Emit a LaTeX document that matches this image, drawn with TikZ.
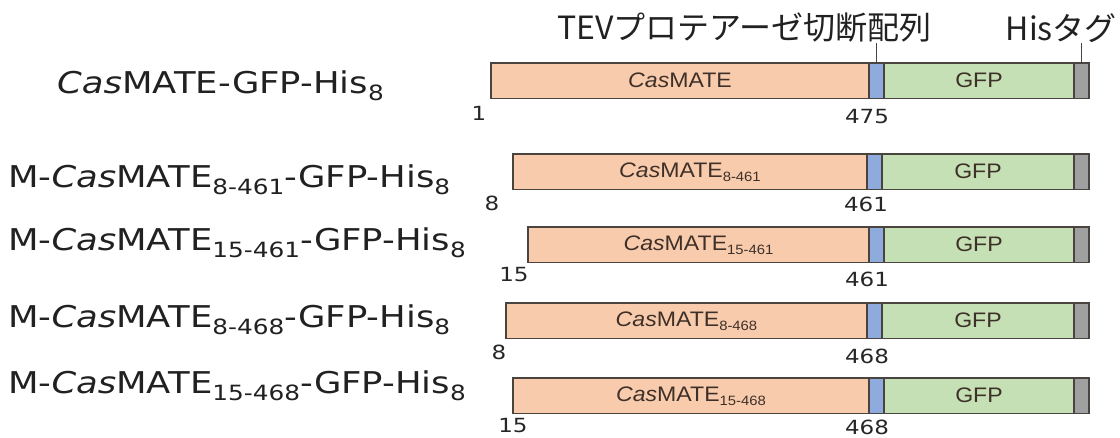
\documentclass[tikz,border=0pt]{standalone}
\usepackage{fontspec}
\setmainfont{DejaVu Sans}
\newfontfamily\lab[FakeStretch=1.18]{DejaVu Sans}
\newfontfamily\cjk{Noto Sans CJK JP}
\newfontfamily\arl[FakeStretch=1.1]{Liberation Sans}
\definecolor{orgfill}{HTML}{F8CBAD}
\definecolor{bluefill}{HTML}{8FAADC}
\definecolor{grnfill}{HTML}{C5E0B4}
\definecolor{gryfill}{HTML}{A0A0A0}
\definecolor{edge}{HTML}{4A4440}
\definecolor{txtbrown}{HTML}{3E3028}
\newcommand\lsub[1]{\raisebox{-7pt}{\fontsize{21}{21}\selectfont #1}}
\newcommand\bsub[1]{\raisebox{-4pt}{\fontsize{13.5}{13.5}\selectfont #1}}
\tikzset{
  seg/.style={draw=edge, line width=1.3pt, inner sep=0pt, outer sep=0pt, minimum height=35.5},
  bartxt/.style={inner sep=0pt, font=\arl\fontsize{21}{24}\selectfont, text=txtbrown},
  num/.style={inner sep=0pt, font=\lab\fontsize{19.5}{22}\selectfont, text=black!85},
  lbl/.style={anchor=base west, inner sep=0pt, font=\lab\fontsize{30}{36}\selectfont, text=black!87},
  cjkt/.style={anchor=east, inner sep=0pt, font=\cjk\fontsize{32}{38}\selectfont, text=black!87},
  tick/.style={draw=edge, line width=1.5pt}
}
\newcommand\mybar[5]{%
  \node[seg, fill=orgfill, minimum width={#4-#2}, anchor=north west] (#1o) at (#2,#3) {};
  \node[seg, fill=bluefill, minimum width=15, anchor=north west] (#1b) at (#4,#3) {};
  \node[seg, fill=grnfill, minimum width={1074-#4-15}, anchor=north west] (#1g) at (#1b.north east) {};
  \node[seg, fill=gryfill, minimum width=15, anchor=north west] (#1h) at (#1g.north east) {};
  \node[bartxt] (#1t) at (#1o.center) {#5};
  \node[bartxt] (#1u) at (#1g.center) {GFP};
}
\begin{document}
\begin{tikzpicture}[x=1pt, y=-1pt]
\useasboundingbox (0,0) rectangle (1120,437);
% titles
\node[cjkt] (tev) at (932,28) {TEVプロテアーゼ切断配列};
\node[cjkt] (his) at (1117,28) {Hisタグ};
% bars
\mybar{r1}{491}{63}{869}{\textit{Cas}MATE}
\mybar{r2}{513}{154}{867}{\textit{Cas}MATE\bsub{8-461}}
\mybar{r3}{528}{227}{869}{\textit{Cas}MATE\bsub{15-461}}
\mybar{r4}{506}{303}{867}{\textit{Cas}MATE\bsub{8-468}}
\mybar{r5}{513}{378}{869}{\textit{Cas}MATE\bsub{15-468}}
% ticks
\coordinate (tevend) at (r1b.north |- tev.south);
\coordinate (hisend) at (r1h.north |- his.south);
\draw[tick] (r1b.north) -- (tevend);
\draw[tick] (r1h.north) -- (hisend);
% left labels
\node[lbl] (L1) at (57,93) {\textit{Cas}MATE-GFP-His\lsub{8}};
\node[lbl] (L2) at (8,187) {M-\textit{Cas}MATE\lsub{8-461}-GFP-His\lsub{8}};
\node[lbl] (L3) at (8,250) {M-\textit{Cas}MATE\lsub{15-461}-GFP-His\lsub{8}};
\node[lbl] (L4) at (8,327) {M-\textit{Cas}MATE\lsub{8-468}-GFP-His\lsub{8}};
\node[lbl] (L5) at (8,393) {M-\textit{Cas}MATE\lsub{15-468}-GFP-His\lsub{8}};
% numbers
\node[num] (n1a) at (479,113) {1};
\node[num] (n1b) at (867,117) {475};
\node[num] (n2a) at (492,203) {8};
\node[num] (n2b) at (866,204) {461};
\node[num] (n3a) at (514,275) {15};
\node[num] (n3b) at (867,279) {461};
\node[num] (n4a) at (499,352) {8};
\node[num] (n4b) at (867,356) {468};
\node[num] (n5a) at (513,426) {15};
\node[num] (n5b) at (867,427) {468};
\end{tikzpicture}
\end{document}
